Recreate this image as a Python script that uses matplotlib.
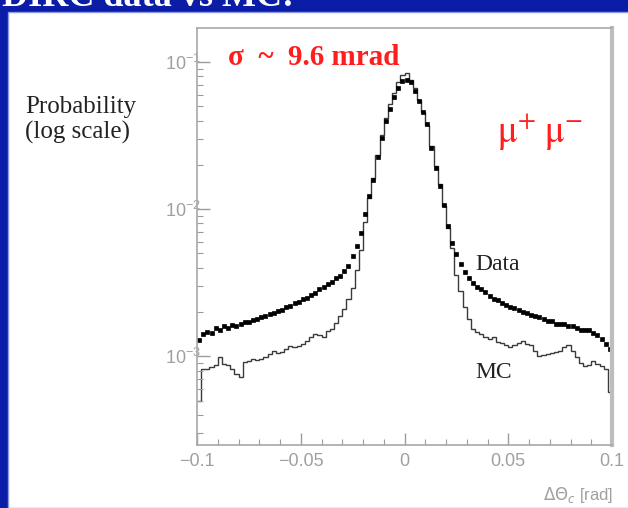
import numpy as np
import matplotlib
matplotlib.use("Agg")
import matplotlib.pyplot as plt
from matplotlib.patches import Rectangle
from matplotlib.ticker import LogLocator, NullFormatter, MultipleLocator

# Cherenkov angle residual, 100 bins of 2 mrad over [-0.1, 0.1] rad
bin_edges = np.linspace(-0.1, 0.1, 101)
bin_centers = 0.5 * (bin_edges[:-1] + bin_edges[1:])

# normalised probability per bin, mu+ mu- data
data_prob = [
    1.30e-3, 1.42e-3, 1.46e-3, 1.44e-3, 1.55e-3, 1.52e-3, 1.60e-3, 1.55e-3, 1.64e-3, 1.62e-3,
    1.67e-3, 1.71e-3, 1.72e-3, 1.76e-3, 1.80e-3, 1.84e-3, 1.88e-3, 1.94e-3, 1.97e-3, 2.03e-3,
    2.07e-3, 2.16e-3, 2.20e-3, 2.30e-3, 2.35e-3, 2.45e-3, 2.50e-3, 2.60e-3, 2.71e-3, 2.86e-3,
    2.97e-3, 3.09e-3, 3.22e-3, 3.39e-3, 3.53e-3, 3.78e-3, 4.14e-3, 4.84e-3, 5.66e-3, 6.93e-3,
    9.32e-3, 1.234e-2, 1.585e-2, 2.27e-2, 3.05e-2, 3.98e-2, 4.80e-2, 5.79e-2, 6.66e-2, 7.43e-2,
    7.55e-2, 7.32e-2, 6.36e-2, 5.44e-2, 4.58e-2, 3.80e-2, 2.61e-2, 1.91e-2, 1.44e-2, 1.06e-2,
    7.73e-3, 5.93e-3, 4.92e-3, 4.27e-3, 3.77e-3, 3.38e-3, 3.17e-3, 2.98e-3, 2.85e-3, 2.72e-3,
    2.59e-3, 2.47e-3, 2.40e-3, 2.32e-3, 2.22e-3, 2.18e-3, 2.12e-3, 2.05e-3, 1.99e-3, 1.96e-3,
    1.90e-3, 1.87e-3, 1.84e-3, 1.78e-3, 1.75e-3, 1.73e-3, 1.67e-3, 1.65e-3, 1.65e-3, 1.62e-3,
    1.60e-3, 1.55e-3, 1.52e-3, 1.52e-3, 1.50e-3, 1.45e-3, 1.39e-3, 1.32e-3, 1.22e-3, 1.12e-3,
]

# same distribution from simulation
mc_prob = [
    4.95e-4, 8.16e-4, 8.16e-4, 8.42e-4, 8.69e-4, 9.84e-4, 8.83e-4, 8.69e-4, 8.16e-4, 7.55e-4,
    7.21e-4, 9.11e-4, 9.25e-4, 9.54e-4, 9.39e-4, 9.54e-4, 9.84e-4, 1.032e-3, 1.081e-3, 1.048e-3,
    1.064e-3, 1.115e-3, 1.169e-3, 1.151e-3, 1.169e-3, 1.206e-3, 1.264e-3, 1.345e-3, 1.410e-3, 1.388e-3,
    1.345e-3, 1.477e-3, 1.524e-3, 1.674e-3, 1.867e-3, 2.083e-3, 2.435e-3, 2.935e-3, 3.889e-3, 5.313e-3,
    8.227e-3, 1.197e-2, 1.635e-2, 2.342e-2, 3.199e-2, 4.172e-2, 5.19e-2, 6.164e-2, 7.317e-2, 8.165e-2,
    8.42e-2, 7.55e-2, 6.66e-2, 5.525e-2, 4.58e-2, 3.74e-2, 2.694e-2, 1.972e-2, 1.489e-2, 1.056e-2,
    7.49e-3, 5.48e-3, 3.596e-3, 2.759e-3, 2.149e-3, 1.781e-3, 1.524e-3, 1.454e-3, 1.410e-3, 1.345e-3,
    1.304e-3, 1.345e-3, 1.244e-3, 1.224e-3, 1.188e-3, 1.151e-3, 1.188e-3, 1.224e-3, 1.264e-3, 1.206e-3,
    1.188e-3, 1.081e-3, 1.000e-3, 1.016e-3, 1.032e-3, 1.048e-3, 1.064e-3, 1.081e-3, 1.151e-3, 1.188e-3,
    1.081e-3, 9.84e-4, 8.97e-4, 8.55e-4, 8.69e-4, 9.25e-4, 8.83e-4, 8.55e-4, 8.16e-4, 5.70e-4,
]

x_ticks = [-0.1, -0.05, 0.0, 0.05, 0.1]
x_tick_labels = ["\u22120.1", "\u22120.05", "0", "0.05", "0.1"]

W, H = 628, 508
BLUE = "#0b1ca6"
RED = "#ff1e1e"
AXGRAY = "#9c9c9c"


def fx(px):
    return px / W


def fy(py):
    return 1 - py / H


fig = plt.figure(figsize=(W / 100, H / 100), dpi=100)
fig.patch.set_facecolor(BLUE)

# white slide panel
fig.patches.append(Rectangle((fx(8), 0), 1, fy(12), transform=fig.transFigure,
                             facecolor="white", edgecolor="#8a9ae6", lw=1.0, zorder=-5))

# slide title, mostly cut off at the top
fig.text(fx(2), fy(6), "DIRC data vs MC:", color="white", fontsize=26,
         fontweight="bold", family="Liberation Serif", va="baseline")

ax = fig.add_axes([fx(197), 1 - 445 / H, fx(612) - fx(197), (445 - 28) / H])
ax.set_facecolor("white")

ax.stairs(mc_prob, bin_edges, baseline=None, color="#3a3a3a", lw=1.0)
ax.plot(bin_centers, data_prob, "s", ms=2.5, color="black", mec="black", mew=0.5)

ax.set_yscale("log")
ax.set_xlim(-0.1, 0.1)
ax.set_ylim(2.5e-4, 0.17)

ax.set_xticks(x_ticks, x_tick_labels)
ax.xaxis.set_minor_locator(MultipleLocator(0.01))
ax.yaxis.set_major_locator(LogLocator(base=10, numticks=10))
ax.yaxis.set_minor_locator(LogLocator(base=10, subs=np.arange(2, 10), numticks=20))
ax.yaxis.set_minor_formatter(NullFormatter())

ax.tick_params(which="both", direction="in", colors=AXGRAY, top=False, right=False,
               labelsize=13)
ax.tick_params(which="major", length=9, width=1.0)
ax.tick_params(which="minor", length=4.5, width=0.8)
ax.tick_params(axis="x", pad=6)
ax.tick_params(axis="y", pad=-3)
for lab in ax.get_xticklabels() + ax.get_yticklabels():
    lab.set_family("Liberation Sans")
    lab.set_color("#a0a0a0")

for side in ["left", "bottom", "top"]:
    ax.spines[side].set_color("#a8a8a8")
    ax.spines[side].set_linewidth(1.2)
ax.spines["right"].set_color("#bdbdbd")
ax.spines["right"].set_linewidth(3.0)

fig.text(fx(613), fy(500), r"$\Delta\Theta_c$ [rad]", ha="right", va="baseline",
         fontsize=12, color="#a0a0a0", family="Liberation Sans")

serif = "Liberation Serif"
fig.text(fx(25), fy(113), "Probability", fontsize=18, family=serif, color="#222222",
         va="baseline")
fig.text(fx(25), fy(139), "(log scale)", fontsize=18, family=serif, color="#222222",
         va="baseline")

fig.text(fx(228), fy(65), "\u03c3  ~  9.6 mrad", fontsize=21, family=serif,
         fontweight="bold", color=RED, va="baseline")
fig.text(fx(497), fy(142), r"$\mathrm{\mu}^{+}\;\mathrm{\mu}^{-}$", fontsize=27, color=RED,
         math_fontfamily="stix", va="baseline")

fig.text(fx(475), fy(270), "Data", fontsize=17, family=serif, color="#222222",
         va="baseline")
fig.text(fx(475), fy(378), "MC", fontsize=17, family=serif, color="#222222",
         va="baseline")

fig.savefig("out.png", dpi=100, facecolor=fig.get_facecolor())
